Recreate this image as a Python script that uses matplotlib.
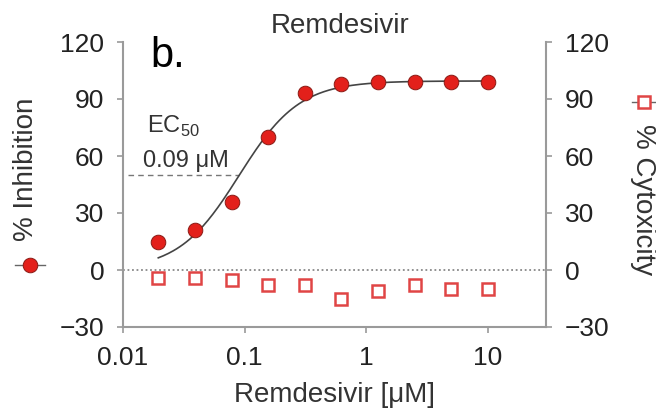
import numpy as np
import matplotlib.pyplot as plt
from matplotlib.ticker import NullLocator

# data
conc = [0.0195, 0.039, 0.078, 0.156, 0.3125, 0.625, 1.25, 2.5, 5, 10]
inhibition = [15, 21, 36, 70, 93, 98, 99, 99, 99, 99]
cytotoxicity = [-4, -4, -5, -8, -8, -15, -11, -8, -10, -10]

# dose-response fit shown as the curve
ec50 = 0.09
hill = 1.75
top, bottom = 99.5, 0

xticks = [0.01, 0.1, 1, 10]
xtick_labels = ['0.01', '0.1', '1', '10']
yticks = [-30, 0, 30, 60, 90, 120]
ytick_labels = ['\u221230', '0', '30', '60', '90', '120']

plt.rcParams['font.family'] = ['Liberation Sans', 'DejaVu Sans']

W, H = 656, 412
fig = plt.figure(figsize=(W / 100, H / 100), dpi=100)
ax = fig.add_axes([123 / W, 85 / H, (546 - 123) / W, (370 - 85) / H])

red = '#e3201b'
sq_red = '#e04545'
gray = '#9a9a9a'

# fitted curve
xc = np.logspace(np.log10(conc[0]), np.log10(conc[-1]), 200)
yc = bottom + (top - bottom) / (1 + (ec50 / xc) ** hill)
ax.plot(xc, yc, color='#444444', lw=1.2, zorder=2)

# reference lines
ax.axhline(0, color='#888888', ls=(0, (1, 1.5)), lw=1.3, zorder=1)
ax.plot([0.011, ec50], [50, 50], color='#777777', ls=(0, (4, 3)), lw=1.0, zorder=1)

ax.plot(conc, inhibition, 'o', ms=10.5, mfc=red, mec='#8a1a14', mew=0.7, zorder=3)
ax.plot(conc, cytotoxicity, 's', ms=9.2, mfc='white', mec=sq_red, mew=1.8, zorder=3)

ax.set_xscale('log')
ax.set_xlim(0.01, 30)
ax.set_ylim(-30, 120)
ax.set_xticks(xticks)
ax.set_xticklabels(xtick_labels)
ax.xaxis.set_minor_locator(NullLocator())
ax.set_yticks(yticks)
ax.set_yticklabels(ytick_labels)

for s in ['left', 'right', 'bottom']:
    ax.spines[s].set_color(gray)
    ax.spines[s].set_linewidth(1.5)
ax.spines['top'].set_visible(False)

ax.tick_params(axis='both', direction='out', length=4.5, width=1.2, color=gray,
               labelcolor='#222222', labelsize=19, pad=9)
ax.tick_params(axis='y', right=True, labelright=True)

ax.text(0.0157, 72, 'EC$_\\mathregular{50}$', fontsize=17, color='#333333')
ax.text(0.0145, 54, '0.09 \u03bcM', fontsize=17, color='#333333')

# texts around the axes
fig.text(340 / W, 1 - 33 / H, 'Remdesivir', ha='center', va='baseline',
         fontsize=20, color='#333333')
fig.text(150 / W, 1 - 67 / H, 'b.', ha='left', va='baseline', fontsize=30,
         color='black')
fig.text(335 / W, 1 - 402 / H, 'Remdesivir [\u03bcM]', ha='center', va='baseline',
         fontsize=20, color='#333333')

fig.text(26 / W, 1 - 169 / H, '% Inhibition', rotation=90, ha='center',
         va='center', fontsize=20, color='#333333')
fig.add_artist(plt.Line2D([15 / W, 45 / W], [1 - 265 / H, 1 - 265 / H],
                          color='#666666', lw=1.0))
fig.add_artist(plt.Line2D([30 / W], [1 - 265 / H], marker='o', ms=10.5,
                          mfc=red, mec='#8a1a14', mew=0.7))

fig.text(643 / W, 1 - 200 / H, '% Cytoxicity', rotation=270, ha='center',
         va='center', fontsize=20, color='#333333')
fig.add_artist(plt.Line2D([632 / W, 660 / W], [1 - 102 / H, 1 - 102 / H],
                          color='#666666', lw=1.0))
fig.add_artist(plt.Line2D([644 / W], [1 - 102 / H], marker='s', ms=9.2,
                          mfc='white', mec=sq_red, mew=1.8))

fig.savefig('out.png', dpi=100)
